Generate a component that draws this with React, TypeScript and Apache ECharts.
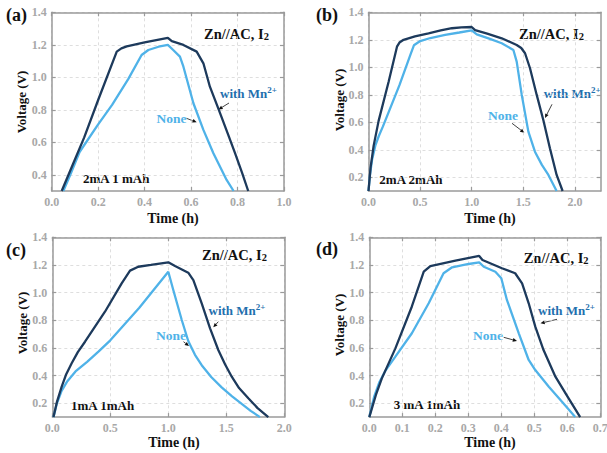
import React, { useEffect, useRef } from 'react';
import * as echarts from 'echarts';

// ---------- data ----------
// Panel (a) 2mA 1 mAh
const aMnTime = [0.043, 0.09, 0.14, 0.2, 0.28, 0.3, 0.323, 0.4, 0.5, 0.517, 0.567, 0.624, 0.653, 0.681, 0.717, 0.76, 0.79, 0.82, 0.846];
const aMnVolt = [0.3, 0.46, 0.63, 0.86, 1.158, 1.178, 1.19, 1.215, 1.243, 1.222, 1.199, 1.158, 1.086, 0.942, 0.809, 0.645, 0.53, 0.41, 0.3];
const aNoneTime = [0.05, 0.08, 0.12, 0.2, 0.26, 0.33, 0.387, 0.416, 0.46, 0.5, 0.523, 0.552, 0.567, 0.61, 0.653, 0.696, 0.753, 0.783];
const aNoneVolt = [0.3, 0.4, 0.54, 0.71, 0.83, 0.99, 1.137, 1.168, 1.188, 1.199, 1.168, 1.127, 1.065, 0.84, 0.676, 0.532, 0.368, 0.3];

// Panel (b) 2mA 2mAh
const bMnTime = [0.0, 0.02, 0.05, 0.098, 0.195, 0.276, 0.3, 0.34, 0.45, 0.582, 0.7, 0.808, 0.9, 1.0, 1.033, 1.15, 1.291, 1.436, 1.48, 1.517, 1.565, 1.63, 1.694, 1.758, 1.823, 1.881];
const bMnVolt = [0.1, 0.27, 0.43, 0.61, 0.895, 1.15, 1.18, 1.2, 1.225, 1.247, 1.268, 1.284, 1.29, 1.293, 1.271, 1.245, 1.211, 1.162, 1.14, 1.102, 0.993, 0.799, 0.617, 0.411, 0.217, 0.1];
const bNoneTime = [0.0, 0.015, 0.035, 0.066, 0.1, 0.14, 0.3, 0.41, 0.44, 0.501, 0.6, 0.743, 0.88, 1.0, 1.049, 1.17, 1.291, 1.404, 1.436, 1.485, 1.549, 1.613, 1.68, 1.743, 1.823];
const bNoneVolt = [0.1, 0.22, 0.33, 0.43, 0.5, 0.57, 0.87, 1.1, 1.16, 1.191, 1.213, 1.235, 1.253, 1.269, 1.24, 1.208, 1.175, 1.126, 1.041, 0.799, 0.532, 0.386, 0.29, 0.217, 0.1];

// Panel (c) 1mA 1mAh
const cMnTime = [0.01, 0.04, 0.081, 0.12, 0.167, 0.22, 0.282, 0.454, 0.598, 0.67, 0.741, 0.85, 1.0, 1.058, 1.172, 1.216, 1.288, 1.36, 1.431, 1.49, 1.547, 1.61, 1.69, 1.77, 1.862];
const cMnVolt = [0.1, 0.21, 0.32, 0.41, 0.489, 0.57, 0.645, 0.862, 1.067, 1.159, 1.187, 1.2, 1.219, 1.192, 1.144, 1.091, 0.923, 0.742, 0.585, 0.48, 0.392, 0.31, 0.236, 0.165, 0.1];
const cNoneTime = [0.01, 0.04, 0.08, 0.13, 0.2, 0.3, 0.4, 0.5, 0.75, 1.0, 1.043, 1.116, 1.172, 1.23, 1.288, 1.37, 1.46, 1.55, 1.633, 1.71, 1.79];
const cNoneVolt = [0.1, 0.2, 0.29, 0.36, 0.43, 0.5, 0.575, 0.655, 0.89, 1.151, 1.019, 0.802, 0.65, 0.55, 0.475, 0.39, 0.315, 0.25, 0.195, 0.145, 0.1];

// Panel (d) 3 mA 1mAh
const dMnTime = [0.0, 0.02, 0.038, 0.079, 0.129, 0.165, 0.185, 0.261, 0.333, 0.343, 0.402, 0.442, 0.463, 0.483, 0.503, 0.528, 0.564, 0.604, 0.639];
const dMnVolt = [0.1, 0.26, 0.38, 0.597, 0.9, 1.151, 1.192, 1.231, 1.265, 1.236, 1.176, 1.14, 1.067, 0.923, 0.754, 0.585, 0.392, 0.236, 0.1];
const dNoneTime = [0.0, 0.015, 0.03, 0.05, 0.079, 0.129, 0.18, 0.225, 0.251, 0.301, 0.333, 0.347, 0.382, 0.4, 0.417, 0.453, 0.483, 0.503, 0.544, 0.584, 0.624];
const dNoneVolt = [0.1, 0.25, 0.35, 0.44, 0.537, 0.706, 0.923, 1.14, 1.183, 1.207, 1.219, 1.187, 1.151, 1.104, 0.947, 0.706, 0.513, 0.44, 0.32, 0.211, 0.1];

// ticks
const xTicksA = [0, 0.2, 0.4, 0.6, 0.8, 1.0];
const xTicksB = [0, 0.5, 1.0, 1.5, 2.0];
const xTicksC = [0, 0.5, 1.0, 1.5, 2.0];
const xTicksD = [0, 0.1, 0.2, 0.3, 0.4, 0.5, 0.6, 0.7];
const yTicksA = [0.4, 0.6, 0.8, 1.0, 1.2, 1.4];
const yTicksBCD = [0.2, 0.4, 0.6, 0.8, 1.0, 1.2, 1.4];

const panelLabels = ['(a)', '(b)', '(c)', '(d)'];
const conditionLabels = ['2mA 1 mAh', '2mA 2mAh', '1mA 1mAh', '3 mA 1mAh'];

// ---------- styling ----------
const SERIF = 'Liberation Serif';
const DARK = '#1d3a5c';
const LIGHT = '#4fb2e8';
const MN_TEXT = '#1f70ae';
const AXIS = '#9a9a9a';
const TICKLBL = '#a8a8a8';

const zip = (t: number[], v: number[]) => t.map((x, i) => [x, v[i]]);

const panels = [
  { grid: { left: 51.7, top: 12.3, width: 232.3, height: 178.7 }, xMin: 0, xMax: 1.0, xTicks: xTicksA, yMin: 0.3, yMax: 1.4, yTicks: yTicksA, mn: zip(aMnTime, aMnVolt), none: zip(aNoneTime, aNoneVolt) },
  { grid: { left: 368.5, top: 12.3, width: 232.2, height: 178.7 }, xMin: 0, xMax: 2.25, xTicks: xTicksB, yMin: 0.1, yMax: 1.4, yTicks: yTicksBCD, mn: zip(bMnTime, bMnVolt), none: zip(bNoneTime, bNoneVolt) },
  { grid: { left: 52.3, top: 237.3, width: 232, height: 179.8 }, xMin: 0, xMax: 2.0, xTicks: xTicksC, yMin: 0.1, yMax: 1.4, yTicks: yTicksBCD, mn: zip(cMnTime, cMnVolt), none: zip(cNoneTime, cNoneVolt) },
  { grid: { left: 369.3, top: 237.3, width: 231, height: 179.8 }, xMin: 0, xMax: 0.7, xTicks: xTicksD, yMin: 0.1, yMax: 1.4, yTicks: yTicksBCD, mn: zip(dMnTime, dMnVolt), none: zip(dNoneTime, dNoneVolt) },
];

// annotation positions (pixels)
const annot = [
  { lab: [6, 15], zn: [204, 34.3], mn: [220, 93.5], mnArrow: [229, 103, 218.5, 109.5], none: [156.5, 118], noneArrow: [186.5, 118.3], noneArrowEnd: [196.7, 122.3], cond: [83, 178], vt: [21, 102], tt: [173, 218] },
  { lab: [316, 15], zn: [519, 34.3], mn: [543.7, 93.3], mnArrow: [552, 104.3, 545, 118], none: [488, 115], noneArrow: [512, 123.3], noneArrowEnd: [524.3, 132.7], cond: [379.3, 179], vt: [339, 100], tt: [490, 218] },
  { lab: [6, 250], zn: [202, 255], mn: [208.5, 310.7], mnArrow: [218.3, 321.7, 213.3, 327.3], none: [156, 335], noneArrow: [183.5, 341.7], noneArrowEnd: [189, 346], cond: [71, 405], vt: [22, 323], tt: [174, 442.5] },
  { lab: [316, 248.5], zn: [523.7, 258.3], mn: [538, 310], mnArrow: [557, 319.3, 540.5, 323.3], none: [473, 335], noneArrow: [503.7, 337.3], noneArrowEnd: [517, 341], cond: [393.7, 404], vt: [339.3, 325], tt: [490, 442.5] },
];

function arrow(x1: number, y1: number, x2: number, y2: number) {
  const dx = x2 - x1, dy = y2 - y1;
  const L = Math.hypot(dx, dy);
  const ux = dx / L, uy = dy / L;
  const h = 4.2, w = 1.9;
  const bx = x2 - ux * h, by = y2 - uy * h;
  return [
    { type: 'line', silent: true, shape: { x1, y1, x2: bx, y2: by }, style: { stroke: '#111', lineWidth: 0.8 } },
    { type: 'polygon', silent: true, shape: { points: [[x2, y2], [bx - uy * w, by + ux * w], [bx + uy * w, by - ux * w]] }, style: { fill: '#111' } },
  ];
}

function text(x: number, y: number, str: string, size: number, color: string) {
  return {
    type: 'text', silent: true, x, y,
    style: { text: str, fontFamily: SERIF, fontWeight: 'bold', fontSize: size, lineHeight: size, fill: color, align: 'left', verticalAlign: 'middle' },
  };
}

export default function App() {
  const ref = useRef<HTMLDivElement>(null);
  useEffect(() => {
    if (!ref.current) return;
    const chart = echarts.init(ref.current, undefined, { renderer: 'svg' });

    const grids: any[] = [];
    const xAxes: any[] = [];
    const yAxes: any[] = [];
    const series: any[] = [];

    panels.forEach((p) => {
      grids.push({ ...p.grid, show: false, containLabel: false, outerBoundsMode: 'none' });
    });
    const fmt = (v: number) => v.toFixed(1);
    const lbl = { color: TICKLBL, fontFamily: SERIF, fontWeight: 'bold', fontSize: 12, lineHeight: 12, margin: 5 };
    panels.forEach((p, i) => {
      xAxes.push({
        type: 'value', gridIndex: i, min: p.xMin, max: p.xMax, position: 'bottom',
        axisLine: { show: true, onZero: false, lineStyle: { color: AXIS, width: 1.5 } },
        axisTick: { show: true, inside: true, length: 4, customValues: p.xTicks, lineStyle: { color: AXIS, width: 1.2 } },
        axisLabel: { show: true, customValues: p.xTicks, formatter: fmt, ...lbl },
        splitLine: { show: true, lineStyle: { color: '#d6d6d6', type: [3, 3], width: 0.8 } },
      });
      yAxes.push({
        type: 'value', gridIndex: i, min: p.yMin, max: p.yMax, position: 'left',
        axisLine: { show: true, onZero: false, lineStyle: { color: AXIS, width: 1.5 } },
        axisTick: { show: true, inside: true, length: 4, customValues: p.yTicks, lineStyle: { color: AXIS, width: 1.2 } },
        axisLabel: { show: true, customValues: p.yTicks, formatter: fmt, ...lbl },
        splitLine: { show: true, lineStyle: { color: '#d6d6d6', type: [3, 3], width: 0.8 } },
      });
    });
    panels.forEach((p, i) => {
      xAxes.push({
        type: 'value', gridIndex: i, min: p.xMin, max: p.xMax, position: 'top',
        axisLine: { show: true, onZero: false, lineStyle: { color: AXIS, width: 1.5 } },
        axisTick: { show: true, inside: true, length: 4, customValues: p.xTicks, lineStyle: { color: AXIS, width: 1.2 } },
        axisLabel: { show: false }, splitLine: { show: false },
      });
      yAxes.push({
        type: 'value', gridIndex: i, min: p.yMin, max: p.yMax, position: 'right',
        axisLine: { show: true, onZero: false, lineStyle: { color: AXIS, width: 1.5 } },
        axisTick: { show: true, inside: true, length: 4, customValues: p.yTicks, lineStyle: { color: AXIS, width: 1.2 } },
        axisLabel: { show: false }, splitLine: { show: false },
      });
    });
    panels.forEach((p, i) => {
      series.push({
        type: 'line', name: 'None', xAxisIndex: i, yAxisIndex: i, data: p.none, showSymbol: false, symbol: 'none',
        lineStyle: { color: LIGHT, width: 2.3 }, z: 3,
      });
      series.push({
        type: 'line', name: 'with Mn2+', xAxisIndex: i, yAxisIndex: i, data: p.mn, showSymbol: false, symbol: 'none',
        lineStyle: { color: DARK, width: 2.3 }, z: 4,
      });
    });

    const graphics: any[] = [];
    annot.forEach((a, i) => {
      graphics.push(text(a.lab[0], a.lab[1], panelLabels[i], 18, '#111'));
      graphics.push({
        type: 'text', silent: true, x: a.zn[0], y: a.zn[1],
        style: {
          text: '{m|Zn//AC, I}{s|2}', align: 'left', verticalAlign: 'middle',
          rich: {
            m: { fontFamily: SERIF, fontWeight: 'bold', fontSize: 14.5, fill: '#111', lineHeight: 15 },
            s: { fontFamily: SERIF, fontWeight: 'bold', fontSize: 10.5, fill: '#111', lineHeight: 11, verticalAlign: 'bottom' },
          },
        },
      });
      graphics.push({
        type: 'text', silent: true, x: a.mn[0], y: a.mn[1],
        style: {
          text: '{m|with Mn}{s|2+}', align: 'left', verticalAlign: 'middle',
          rich: {
            m: { fontFamily: SERIF, fontWeight: 'bold', fontSize: 13, fill: MN_TEXT, lineHeight: 16 },
            s: { fontFamily: SERIF, fontWeight: 'bold', fontSize: 9, fill: MN_TEXT, lineHeight: 9, verticalAlign: 'top' },
          },
        },
      });
      graphics.push(...arrow(a.mnArrow[0], a.mnArrow[1], a.mnArrow[2], a.mnArrow[3]));
      graphics.push(text(a.none[0], a.none[1], 'None', 13.5, LIGHT));
      graphics.push(...arrow(a.noneArrow[0], a.noneArrow[1], a.noneArrowEnd[0], a.noneArrowEnd[1]));
      graphics.push(text(a.cond[0], a.cond[1], conditionLabels[i], 13, '#111'));
      graphics.push({
        type: 'text', silent: true, x: a.vt[0], y: a.vt[1], rotation: Math.PI / 2,
        style: { text: 'Voltage (V)', fontFamily: SERIF, fontWeight: 'bold', fontSize: 13, lineHeight: 13, fill: '#111', align: 'center', verticalAlign: 'middle' },
      });
      graphics.push({
        type: 'text', silent: true, x: a.tt[0], y: a.tt[1],
        style: { text: 'Time (h)', fontFamily: SERIF, fontWeight: 'bold', fontSize: 14, lineHeight: 14, fill: '#111', align: 'center', verticalAlign: 'middle' },
      });
    });

    chart.setOption({
      animation: false,
      backgroundColor: '#ffffff',
      grid: grids,
      xAxis: xAxes,
      yAxis: yAxes,
      series,
      graphic: graphics,
    });
    return () => chart.dispose();
  }, []);
  return <div ref={ref} style={{ position: 'absolute', left: 0, top: 0, width: 607, height: 453, background: '#fff' }} />;
}
